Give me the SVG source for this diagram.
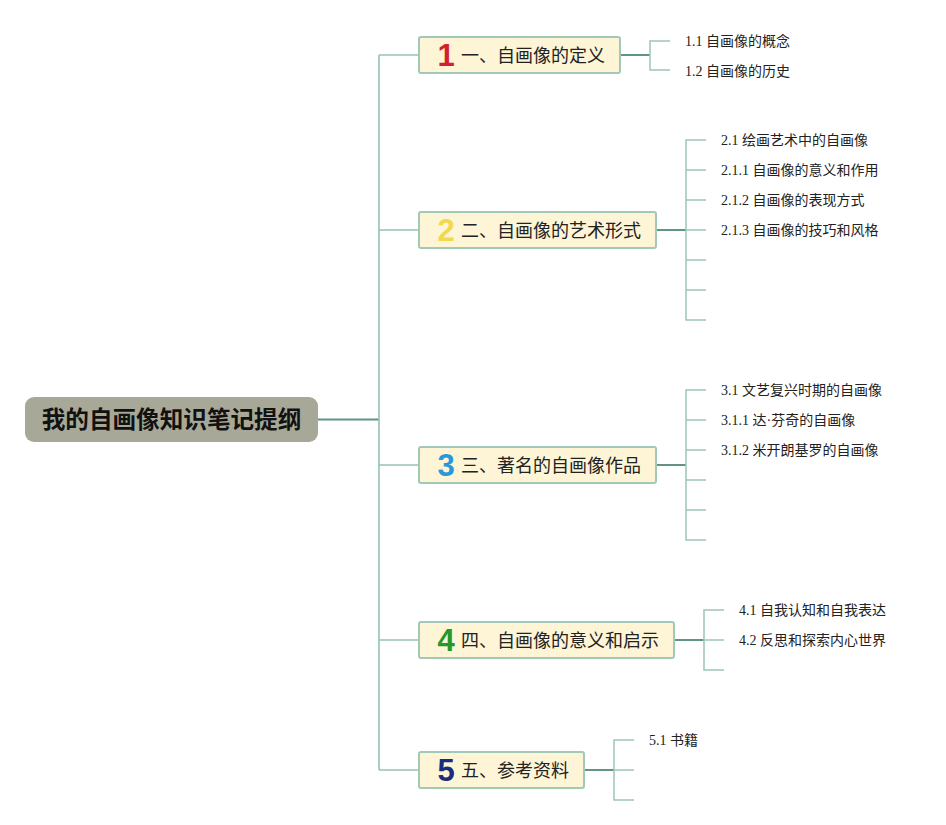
<svg xmlns="http://www.w3.org/2000/svg" width="946" height="825" viewBox="0 0 946 825">
<style>
.trunk{fill:none;stroke:#95c2b6;stroke-width:1.6}
.stem{fill:none;stroke:#5f9487;stroke-width:1.8}
.tick{fill:none;stroke:#9cc6ba;stroke-width:1.5}
.box{fill:#fdf5d6;stroke:#a2c8b6;stroke-width:2}
.root{fill:#a8a898}
.rt{font-family:"Noto Sans CJK SC","Liberation Sans",sans-serif;font-size:23.6px;font-weight:bold;fill:#111;text-anchor:middle}
.nt{font-family:"Noto Sans CJK SC","Liberation Sans",sans-serif;font-size:18px;fill:#222}
.num{font-family:"Liberation Sans","Noto Sans",sans-serif;font-size:31px;font-weight:bold;text-anchor:middle}
.ct{font-family:"Liberation Serif","Noto Sans CJK SC",serif;font-size:14px;fill:#222}
</style>
<g id="connectors">
<path class="stem" d="M318 419.5H379"/>
<path class="trunk" d="M379 55V770M379 55H419M379 230H419M379 465H419M379 640H419M379 770H419"/>
<path class="stem" d="M620 55H650M656 230H686M656 465H686M674 640H704M584 770H614"/>
<path class="tick" d="M670 41H650V70H670"/>
<path class="tick" d="M706 140H686V320H706M686 170H706M686 200H706M686 230H706M686 260H706M686 290H706"/>
<path class="tick" d="M706 390H686V540H706M686 420H706M686 450H706M686 480H706M686 510H706"/>
<path class="tick" d="M724 610H704V670H724M704 640H724"/>
<path class="tick" d="M634 740H614V800H634M614 770H634"/>
</g>
<g id="root">
<rect class="root" x="25" y="397" width="293" height="45" rx="9"/>
<text class="rt" x="171.5" y="428">我的自画像知识笔记提纲</text>
</g>
<g id="n1">
<rect class="box" x="419" y="37" width="201" height="36" rx="2"/>
<text class="num" x="446" y="66" fill="#d41f2c">1</text>
<text class="nt" x="461" y="61.5">一、自画像的定义</text>
</g>
<g id="n1-1"><text class="ct" x="685" y="46">1.1 自画像的概念</text></g>
<g id="n1-2"><text class="ct" x="685" y="75.5">1.2 自画像的历史</text></g>
<g id="n2">
<rect class="box" x="419" y="212" width="237" height="36" rx="2"/>
<text class="num" x="446" y="241" fill="#f2d84c">2</text>
<text class="nt" x="461" y="236.5">二、自画像的艺术形式</text>
</g>
<g id="n2-1"><text class="ct" x="721" y="145">2.1 绘画艺术中的自画像</text></g>
<g id="n2-2"><text class="ct" x="721" y="175">2.1.1 自画像的意义和作用</text></g>
<g id="n2-3"><text class="ct" x="721" y="205">2.1.2 自画像的表现方式</text></g>
<g id="n2-4"><text class="ct" x="721" y="235">2.1.3 自画像的技巧和风格</text></g>
<g id="n3">
<rect class="box" x="419" y="447" width="237" height="36" rx="2"/>
<text class="num" x="446" y="476" fill="#2a98d8">3</text>
<text class="nt" x="461" y="471.5">三、著名的自画像作品</text>
</g>
<g id="n3-1"><text class="ct" x="721" y="395">3.1 文艺复兴时期的自画像</text></g>
<g id="n3-2"><text class="ct" x="721" y="425">3.1.1 达·芬奇的自画像</text></g>
<g id="n3-3"><text class="ct" x="721" y="455">3.1.2 米开朗基罗的自画像</text></g>
<g id="n4">
<rect class="box" x="419" y="622" width="255" height="36" rx="2"/>
<text class="num" x="446" y="651" fill="#23982b">4</text>
<text class="nt" x="461" y="646.5">四、自画像的意义和启示</text>
</g>
<g id="n4-1"><text class="ct" x="739" y="615">4.1 自我认知和自我表达</text></g>
<g id="n4-2"><text class="ct" x="739" y="645">4.2 反思和探索内心世界</text></g>
<g id="n5">
<rect class="box" x="419" y="752" width="165" height="36" rx="2"/>
<text class="num" x="446" y="781" fill="#1b2c7c">5</text>
<text class="nt" x="461" y="776.5">五、参考资料</text>
</g>
<g id="n5-1"><text class="ct" x="649" y="745">5.1 书籍</text></g>
</svg>
